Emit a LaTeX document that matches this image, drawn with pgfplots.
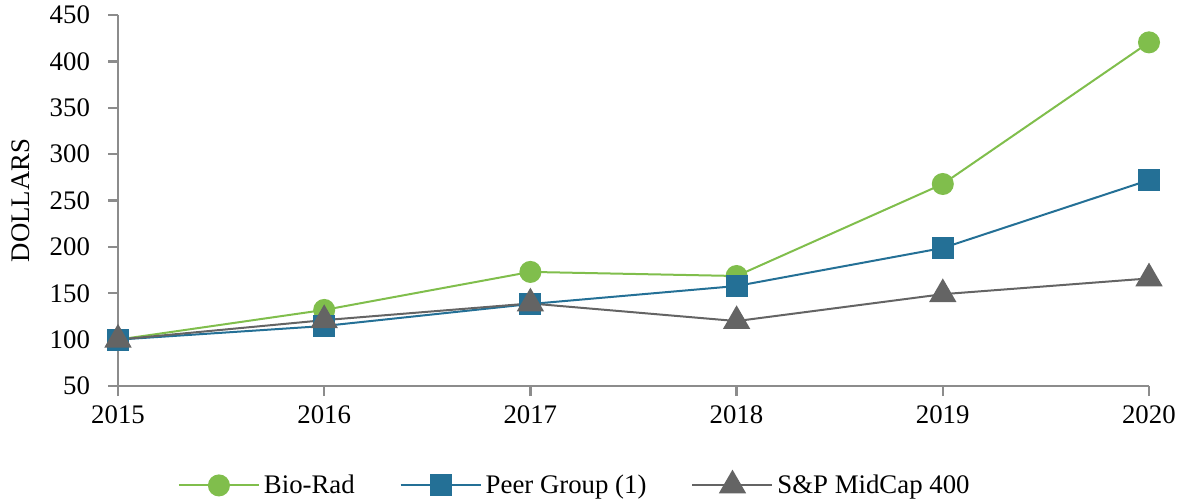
\documentclass[border=0pt]{standalone}
\usepackage{fontspec}
\setmainfont{Liberation Serif}
\usepackage{pgfplots}
\pgfplotsset{compat=1.18}
\definecolor{cgreen}{RGB}{128,190,76}
\definecolor{cblue}{RGB}{36,112,150}
\definecolor{cgrey}{RGB}{100,100,100}
\definecolor{caxis}{RGB}{140,140,140}
\begin{document}
\begin{tikzpicture}
\useasboundingbox (0,0) rectangle (593.5pt,249pt);
\begin{axis}[
  at={(59pt,56pt)}, anchor=south west,
  scale only axis, width=515.5pt, height=185.5pt,
  xmin=2015, xmax=2020, ymin=50, ymax=450,
  xtick={2015,...,2020}, ytick={50,100,...,450},
  x tick label style={/pgf/number format/1000 sep={}},
  yticklabel shift=5.5pt,
  xticklabel shift=1.5pt,
  /pgf/number format/assume math mode=true,
  axis x line*=bottom, axis y line*=left,
  axis line style={caxis, line width=1.2pt, -},
  tick style={caxis, line width=1.2pt},
  tick align=outside, major tick length=5pt,
  font=\fontsize{13.4}{15}\selectfont,
  ylabel={DOLLARS},
  every axis y label/.style={at={(rel axis cs:-0.0941,0.5)}, rotate=90, anchor=center},
  clip=false,
  legend columns=3,
  legend style={draw=none, at={(0.444,-0.268)}, anchor=center,
    /tikz/every even column/.append style={column sep=20.5pt},
    /tikz/every odd column/.append style={inner sep=0pt},
    font=\fontsize{13.4}{15}\selectfont},
  legend image code/.code={%
    \draw[mark repeat=2, mark phase=2] plot coordinates {(0pt,0pt)(20pt,0pt)(40pt,0pt)};},
]
\addplot[cgreen, line width=1pt, mark=*, mark size=5pt, mark options={solid, fill=cgreen, draw=cgreen}]
  coordinates {(2015,100)(2016,132)(2017,173)(2018,168.6)(2019,267.8)(2020,420.5)};
\addlegendentry{Bio-Rad}
\addplot[cblue, line width=1pt, mark=square*, mark size=5pt, mark options={solid, fill=cblue, draw=cblue}]
  coordinates {(2015,100)(2016,114.7)(2017,138.4)(2018,157.8)(2019,198.8)(2020,272)};
\addlegendentry{Peer Group (1)}
\addplot[cgrey, line width=1pt, mark=triangle*, mark size=6.9pt, mark options={solid, fill=cgrey, draw=cgrey}]
  coordinates {(2015,100)(2016,121)(2017,139)(2018,120)(2019,149)(2020,166)};
\addlegendentry{S\&P MidCap 400}
\end{axis}
\end{tikzpicture}
\end{document}
